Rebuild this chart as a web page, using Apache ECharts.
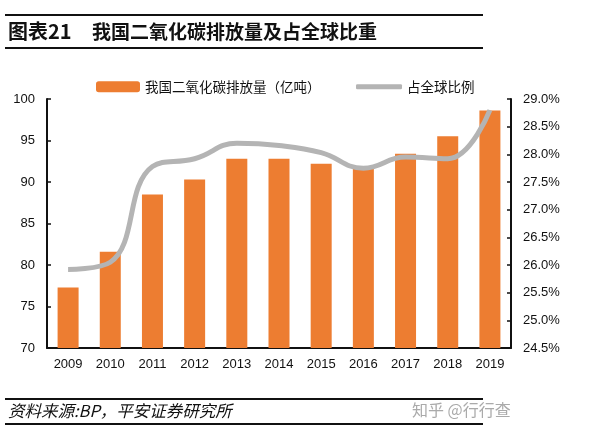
<!DOCTYPE html>
<html>
<head>
<meta charset="utf-8">
<script src="https://cdn.jsdelivr.net/npm/echarts@6/dist/echarts.min.js"></script>
<style>
html,body{margin:0;padding:0;background:#fff;}
#c{width:600px;height:436px;}
</style>
</head>
<body>
<div id="c"></div>
<script>
var years = ['2009','2010','2011','2012','2013','2014','2015','2016','2017','2018','2019'];
var emissions = [77.3, 81.6, 88.5, 90.3, 92.8, 92.8, 92.2, 91.7, 93.4, 95.5, 98.6];
var sharePct = [25.92, 26.05, 27.78, 27.92, 28.2, 28.16, 28.03, 27.75, 27.95, 27.92, 28.8];
var leftTicks = [70, 100, 5];
var rightTicks = [24.5, 29.0, 0.5];
var barName = '我国二氧化碳排放量（亿吨）';
var lineName = '占全球比例';
var titleNo = '图表21';
var titleText = '我国二氧化碳排放量及占全球比重';
var sourceText = '资料来源:BP，平安证券研究所';
var watermark = '知乎 @行行查';

var chart = echarts.init(document.getElementById('c'));
var fontLatin = 'Liberation Sans, Arial, sans-serif';
var fontCJK = 'Noto Sans CJK SC, sans-serif';
chart.setOption({
  animation: false,
  backgroundColor: '#fff',
  graphic: [
    {type:'line', shape:{x1:5,y1:15,x2:483,y2:15}, style:{stroke:'#111',lineWidth:2}},
    {type:'line', shape:{x1:5,y1:48,x2:483,y2:48}, style:{stroke:'#111',lineWidth:2}},
    {type:'text', left:8, top:21, style:{text:titleNo, fontSize:20, fontWeight:'bold', fill:'#111', fontFamily:fontCJK}},
    {type:'text', left:92, top:22, style:{text:titleText, fontSize:19, fontWeight:'bold', fill:'#111', fontFamily:fontCJK}},
    {type:'line', shape:{x1:5,y1:399,x2:483,y2:399}, style:{stroke:'#111',lineWidth:2}},
    {type:'line', shape:{x1:5,y1:424,x2:483,y2:424}, style:{stroke:'#111',lineWidth:2}},
    {type:'text', left:8, top:402, style:{text:sourceText, fontSize:16.5, fontStyle:'italic', fill:'#111', fontFamily:fontCJK}},
    {type:'text', left:412, top:402, style:{text:watermark, fontSize:16, fill:'#aaa', fontFamily:fontCJK}}
  ],
  legend: [
    {data:[{name:barName, icon:'roundRect'}], left:91, top:75, itemWidth:44, itemHeight:11, itemGap:6,
     textStyle:{fontSize:13.5, color:'#111', fontFamily:fontCJK}},
    {data:[{name:lineName, icon:'roundRect'}], left:351, top:75, itemWidth:46, itemHeight:5, itemGap:6,
     textStyle:{fontSize:13.5, color:'#111', fontFamily:fontCJK}}
  ],
  grid: {left:47, right:89, top:99, bottom:88},
  xAxis: {
    type:'category', data: years, boundaryGap:true,
    axisLine:{lineStyle:{color:'#111', width:2}},
    axisTick:{inside:true, length:4, lineStyle:{color:'#111', width:1.5}},
    axisLabel:{fontSize:13, color:'#111', fontFamily:fontLatin, margin:10}
  },
  yAxis: [
    {type:'value', min:leftTicks[0], max:leftTicks[1], interval:leftTicks[2],
     splitLine:{show:false},
     axisLine:{show:true, lineStyle:{color:'#111', width:2}},
     axisTick:{show:true, inside:true, length:4, lineStyle:{color:'#111', width:1.5}},
     axisLabel:{fontSize:13, color:'#111', fontFamily:fontLatin, margin:12}},
    {type:'value', min:rightTicks[0], max:rightTicks[1], interval:rightTicks[2],
     splitLine:{show:false},
     axisLine:{show:true, lineStyle:{color:'#111', width:2}},
     axisTick:{show:true, inside:true, length:4, lineStyle:{color:'#111', width:1.5}},
     axisLabel:{fontSize:13, color:'#111', fontFamily:fontLatin, margin:12,
       formatter:function(v){return v.toFixed(1)+'%';}}}
  ],
  series: [
    {name:barName, type:'bar', data:emissions, barWidth:21, yAxisIndex:0,
     itemStyle:{color:'#ED7D31'}},
    {name:lineName, type:'line', data:sharePct, yAxisIndex:1, smooth:0.45,
     showSymbol:false, symbol:'none',
     lineStyle:{color:'#B4B4B4', width:5}, itemStyle:{color:'#B4B4B4'}, z:3}
  ]
});
</script>
</body>
</html>
